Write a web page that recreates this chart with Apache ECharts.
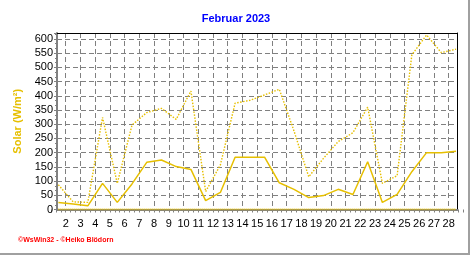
<!DOCTYPE html>
<html><head><meta charset="utf-8">
<script src="https://cdn.jsdelivr.net/npm/echarts@6/dist/echarts.min.js"></script>
<style>html,body{margin:0;padding:0;background:#fff}#c{width:472px;height:255px}</style>
</head><body><div id="c"></div>
<script>
// Days of February 2023
const days = [1,2,3,4,5,6,7,8,9,10,11,12,13,14,15,16,17,18,19,20,21,22,23,24,25,26,27,28];
// Daily maximum solar radiation (W/m²) - dotted line
const solarMax = [87,27,25,324,92,297,341,356,317,417,63,157,374,384,403,423,276,115,180,239,270,360,92,119,544,614,552,564];
// Daily average solar radiation (W/m²) - solid line
const solarAvg = [25,19,13,92,25,90,166,174,151,141,31,60,184,184,184,94,71,42,49,71,53,168,25,53,133,200,200,205];
// Daily minimum solar radiation (W/m²)
const solarMin = [0,0,0,0,0,0,0,0,0,0,0,0,0,0,0,0,0,0,0,0,0,0,0,0,0,0,0,0];
const titleText = 'Februar 2023';
const yName = 'Solar (W/m²)';
const footer = '©WsWin32 - ©Heiko Blödorn';

const YEL = '#e6bf00';
const GRID = '#808080';
const FONT = '"Liberation Sans", Arial, sans-serif';
const pts = arr => days.map((d, i) => [d + 0.5, arr[i]]);

const chart = echarts.init(document.getElementById('c'), null, {renderer: 'canvas'});
chart.setOption({
  animation: false,
  backgroundColor: '#fff',
  grid: [
    {left: 51, right: 8.6, top: 33, bottom: 45.5},
    {left: 57, right: 14.7, top: 33, bottom: 45.5}
  ],
  xAxis: [
    {gridIndex: 0, type: 'value', min: 1, max: 29, interval: 1,
     axisLine: {show: false},
     axisTick: {show: true, inside: false, length: 3, lineStyle: {color: GRID}},
     minorTick: {show: true, splitNumber: 3, length: 3, lineStyle: {color: GRID}},
     axisLabel: {showMinLabel: false, showMaxLabel: false, fontSize: 11, color: '#000', margin: 9, fontFamily: FONT},
     splitLine: {show: true, showMinLine: false, showMaxLine: false, lineStyle: {color: GRID, type: [5, 3], width: 1}}},
    {gridIndex: 1, type: 'value', min: 0, max: 1, position: 'bottom',
     axisLine: {show: true, onZero: false, lineStyle: {color: GRID, width: 2}},
     axisTick: {show: false}, axisLabel: {show: false}, splitLine: {show: false}},
    {gridIndex: 1, type: 'value', min: 0, max: 1, position: 'top',
     axisLine: {show: true, onZero: false, lineStyle: {color: '#000', width: 1}},
     axisTick: {show: false}, axisLabel: {show: false}, splitLine: {show: false}}
  ],
  yAxis: [
    {gridIndex: 0, type: 'value', min: 0, max: 621, show: false, splitLine: {show: false}},
    {gridIndex: 1, type: 'value', min: 0, max: 621, interval: 50, position: 'left',
     axisLine: {show: true, onZero: false, lineStyle: {color: GRID, width: 2}},
     axisTick: {show: true, length: 3, lineStyle: {color: GRID}},
     minorTick: {show: true, splitNumber: 3, length: 2, lineStyle: {color: GRID}},
     axisLabel: {showMaxLabel: false, fontSize: 11, color: '#000', margin: 4, fontFamily: FONT},
     splitLine: {show: true, showMinLine: false, showMaxLine: false, lineStyle: {color: GRID, type: [5, 3], width: 1}},
     name: yName, nameLocation: 'middle', nameGap: 26, nameRotate: 90,
     nameTextStyle: {color: YEL, fontWeight: 'bold', fontSize: 11, fontFamily: FONT}},
    {gridIndex: 1, type: 'value', min: 0, max: 1, position: 'right',
     axisLine: {show: true, onZero: false, lineStyle: {color: '#000', width: 1}},
     axisTick: {show: false}, axisLabel: {show: false}, splitLine: {show: false}}
  ],
  series: [
    {type: 'line', name: 'max', xAxisIndex: 0, yAxisIndex: 0, data: pts(solarMax), symbol: 'none',
     lineStyle: {color: YEL, width: 1.4, type: [1.5, 1.5]}, z: 3},
    {type: 'line', name: 'avg', xAxisIndex: 0, yAxisIndex: 0, data: pts(solarAvg), symbol: 'none',
     lineStyle: {color: YEL, width: 1.5, type: 'solid'}, z: 4},
    {type: 'line', name: 'min', xAxisIndex: 0, yAxisIndex: 0, data: pts(solarMin), symbol: 'none',
     lineStyle: {color: YEL, width: 2, type: [1, 1]}, z: 5}
  ],
  graphic: [
    {type: 'text', left: 'center', top: 13, style: {text: titleText, fill: '#0000ff', font: 'bold 11px ' + FONT}},
    {type: 'text', x: 18, y: 237, style: {text: footer, fill: '#ff0000', font: 'bold 7px ' + FONT}},
    {type: 'line', shape: {x1: 469, y1: 0, x2: 469, y2: 255}, style: {stroke: '#a0a0a0', lineWidth: 2}},
    {type: 'line', shape: {x1: 0, y1: 254, x2: 470, y2: 254}, style: {stroke: '#a0a0a0', lineWidth: 2}}
  ]
});
</script></body></html>
